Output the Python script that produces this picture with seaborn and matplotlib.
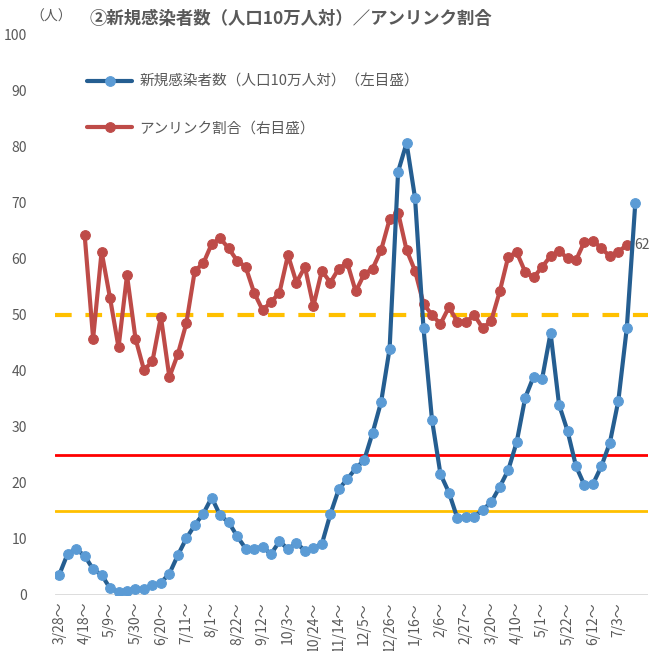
import numpy as np
import matplotlib
matplotlib.use("Agg")
import matplotlib.pyplot as plt
import seaborn as sns

# 週ごとのデータ (3/28～ から)
week_labels = ["3/28～", "4/18～", "5/9～", "5/30～", "6/20～", "7/11～", "8/1～", "8/22～",
               "9/12～", "10/3～", "10/24～", "11/14～", "12/5～", "12/26～", "1/16～", "2/6～",
               "2/27～", "3/20～", "4/10～", "5/1～", "5/22～", "6/12～", "7/3～"]

cases = [3.6, 7.4, 8.2, 7.0, 4.6, 3.6, 1.2, 0.5, 0.8, 1.1, 1.0, 1.8, 2.2, 3.8, 7.1, 10.1,
         12.5, 14.5, 17.4, 14.2, 13.0, 10.5, 8.3, 8.3, 8.6, 7.3, 9.6, 8.2, 9.3, 7.9, 8.4, 9.1,
         14.4, 18.9, 20.7, 22.6, 24.1, 29.0, 34.5, 44.0, 75.6, 80.7, 70.9, 47.6, 31.3, 21.6,
         18.3, 13.7, 13.9, 14.0, 15.2, 16.6, 19.3, 22.3, 27.3, 35.2, 39.0, 38.6, 46.8, 34.0,
         29.3, 23.0, 19.6, 19.8, 23.0, 27.2, 34.7, 47.7, 70.0]

unlinked_start = 3
unlinked = [64.3, 45.8, 61.3, 53.0, 44.2, 57.1, 45.8, 40.2, 41.7, 49.7, 38.9, 43.0, 48.5,
            57.9, 59.2, 62.7, 63.7, 61.9, 59.7, 58.6, 54.0, 50.9, 52.3, 54.0, 60.7, 55.8,
            58.6, 51.6, 57.9, 55.8, 58.3, 59.3, 54.2, 57.3, 58.3, 61.6, 67.1, 68.3, 61.6,
            57.9, 52.0, 50.0, 48.4, 51.4, 48.8, 48.7, 50.0, 47.6, 49.0, 54.2, 60.4, 61.2,
            57.7, 56.7, 58.6, 60.5, 61.5, 60.1, 59.8, 63.1, 63.3, 61.9, 60.5, 61.3, 62.5]

sns.set_style("white")
plt.rcParams['font.family'] = ['Noto Sans CJK JP', 'DejaVu Sans']

grey = '#595959'
fig = plt.figure(figsize=(6.5, 6.51), dpi=100)
ax = fig.add_axes([55/650, 56/651, 593/650, 560/651])

x_cases = np.arange(len(cases))
x_unl = np.arange(unlinked_start, unlinked_start + len(unlinked))

ax.axhline(0, color='#d9d9d9', lw=2, zorder=1)
ax.axhline(50, color='#ffc000', lw=3, ls=(0, (4, 3.3)), zorder=2)
ax.axhline(25, color='#ff0000', lw=2, zorder=2)
ax.axhline(15, color='#ffc000', lw=2, zorder=2)

sns.lineplot(x=x_cases, y=cases, ax=ax, color='#255e91', lw=3, marker='o', markersize=7,
             markerfacecolor='#5b9bd5', markeredgecolor='#5b9bd5',
             label='新規感染者数（人口10万人対）（左目盛）', zorder=4)
sns.lineplot(x=x_unl, y=unlinked, ax=ax, color='#be4b48', lw=3, marker='o', markersize=7,
             markerfacecolor='#be4b48', markeredgecolor='#be4b48',
             label='アンリンク割合（右目盛）', zorder=3)

# 最後の値ラベル（元の図でも右端で切れている）
ax.text(x_unl[-1] + 0.9, unlinked[-1], f'{unlinked[-1]:.1f}', color=grey, fontsize=10,
        va='center', ha='left', clip_on=False)

ax.set_xlim(-0.5, 69.5)
ax.set_ylim(0, 100)
ax.set_yticks(np.arange(0, 101, 10))
ax.set_yticklabels([str(v) for v in range(0, 101, 10)])
ax.set_xticks(np.arange(0, len(week_labels) * 3, 3))
ax.set_xticklabels(week_labels, rotation=90)
ax.tick_params(axis='both', length=0, colors=grey, labelsize=10)
ax.tick_params(axis='y', pad=20)
ax.tick_params(axis='x', pad=5)
ax.set_xlabel('')
ax.set_ylabel('')
for s in ax.spines.values():
    s.set_visible(False)

leg = ax.legend(loc='upper left', bbox_to_anchor=(0.032, 0.952), frameon=False,
                handlelength=3.1, handletextpad=0.5, labelspacing=2.2, fontsize=10.5)
for t in leg.get_texts():
    t.set_color(grey)

fig.text(90/650, 1 - 19/651, '②新規感染者数（人口10万人対）／アンリンク割合', fontsize=12.5,
         fontweight='bold', color=grey, ha='left', va='center')
fig.text(30/650, 1 - 17/651, '（人）', fontsize=10, color=grey, ha='left', va='center')

fig.savefig('out.png', dpi=100)
